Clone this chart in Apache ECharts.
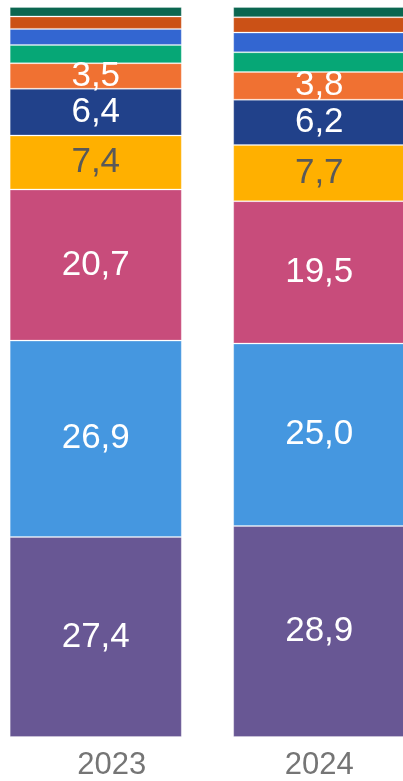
<!DOCTYPE html>
<html>
<head>
<meta charset="utf-8">
<script src="https://cdn.jsdelivr.net/npm/echarts@6/dist/echarts.min.js"></script>
<style>
  html, body { margin: 0; padding: 0; overflow: hidden; background: #fff; }
  #chart { position: absolute; left: -16px; top: 0; width: 447px; height: 781px; }
</style>
</head>
<body>
<div id="chart"></div>
<script>
// categories (years)
var years = ['2023', '2024']

// series, bottom to top (percent shares)
var seg1 = [27.4, 28.9]
var seg2 = [26.9, 25.0]
var seg3 = [20.7, 19.5]
var seg4 = [7.4, 7.7]
var seg5 = [6.4, 6.2]
var seg6 = [3.5, 3.8]
var seg7 = [2.5, 2.7]
var seg8 = [2.2, 2.7]
var seg9 = [1.7, 2.1]
var seg10 = [1.3, 1.4]

var segData = [seg1, seg2, seg3, seg4, seg5, seg6, seg7, seg8, seg9, seg10]
var colors = ['#685794', '#4597e0', '#c84c7b', '#ffb000', '#21418a',
  '#f07132', '#06a776', '#3366d1', '#cb5116', '#0b6650']
// label text colour per segment (null = no label)
var labelColors = ['#fff', '#fff', '#fff', '#595959', '#fff', '#fff', null, null, null, null]

var chart = echarts.init(document.getElementById('chart'))

var series = segData.map(function(d, i) {
  return {
    name: 'Segment ' + (i + 1),
    type: 'bar',
    stack: 'total',
    barWidth: '77%',
    data: d,
    itemStyle: {
      color: colors[i],
      borderColor: 'rgba(255,255,255,0.25)',
      borderWidth: 1
    },
    label: {
      show: labelColors[i] !== null,
      position: 'inside',
      color: labelColors[i] || '#fff',
      fontSize: 35,
      fontFamily: 'Liberation Sans',
      formatter: function(p) {
        return p.value.toFixed(1).replace('.', ',')
      }
    }
  }
})

chart.setOption({
  animation: false,
  grid: {
    left: 0,
    right: 0,
    top: 7,
    bottom: 44
  },
  xAxis: {
    type: 'category',
    data: [
      { value: years[0], textStyle: { padding: [0, 0, 0, 32] } },
      years[1]
    ],
    axisLine: { show: false },
    axisTick: { show: false },
    axisLabel: {
      color: '#757575',
      fontSize: 31,
      fontFamily: 'Liberation Sans',
      margin: 13
    }
  },
  yAxis: {
    type: 'value',
    min: 0,
    max: 100,
    show: false
  },
  series: series
})
</script>
</body>
</html>
